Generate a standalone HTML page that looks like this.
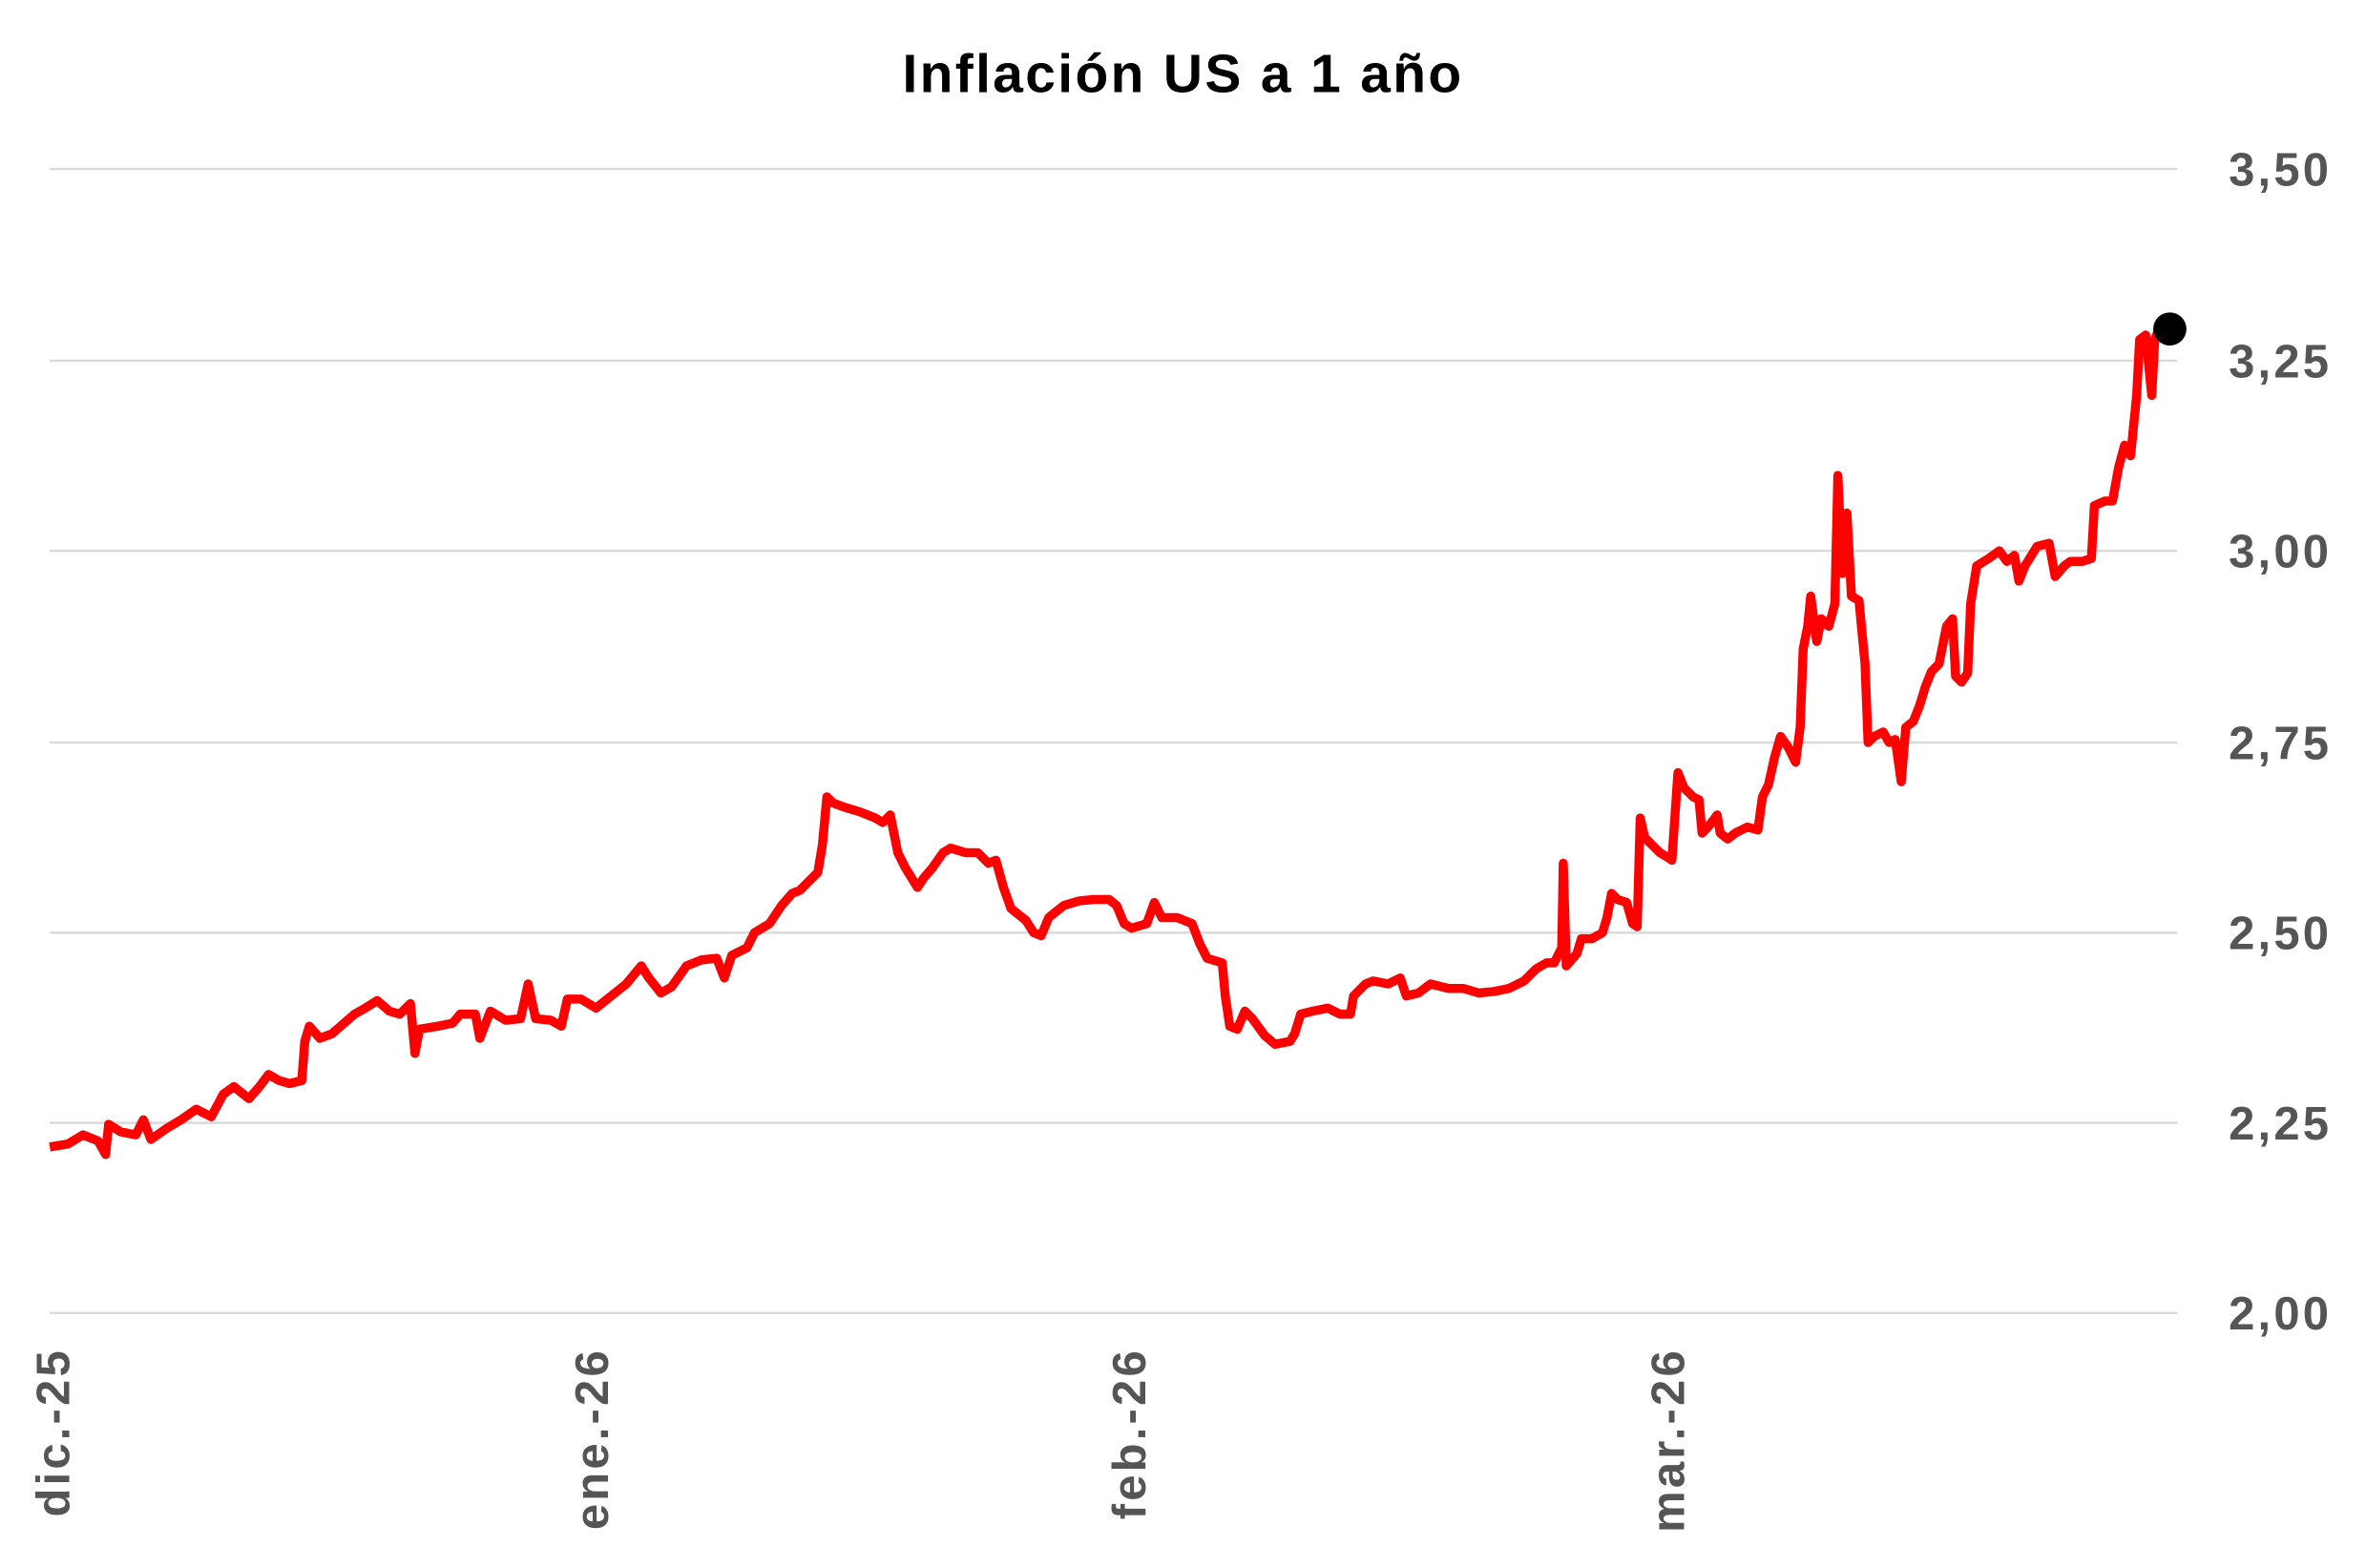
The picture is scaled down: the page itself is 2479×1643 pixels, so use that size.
<!DOCTYPE html>
<html><head><meta charset="utf-8"><style>html,body{margin:0;padding:0;background:#fff}svg{display:block}</style></head>
<body>
<svg width="2479" height="1643" viewBox="0 0 1568 1039" preserveAspectRatio="none" xmlns="http://www.w3.org/2000/svg">
<text x="784" y="61" text-anchor="middle" font-family="Liberation Sans, sans-serif" font-weight="bold" font-size="36" letter-spacing="1.5" fill="#000">Inflación US a 1 año</text>
<g stroke="#d9d9d9" stroke-width="1.5">
<line x1="33" y1="112" x2="1443" y2="112"/><line x1="33" y1="239" x2="1443" y2="239"/>
<line x1="33" y1="365" x2="1443" y2="365"/><line x1="33" y1="492" x2="1443" y2="492"/>
<line x1="33" y1="618" x2="1443" y2="618"/><line x1="33" y1="744" x2="1443" y2="744"/>
<line x1="33" y1="870" x2="1443" y2="870"/>
</g>
<g font-family="Liberation Sans, sans-serif" font-weight="bold" font-size="31" letter-spacing="2" fill="#555">
<text x="1477" y="123">3,50</text><text x="1477" y="250">3,25</text><text x="1477" y="376">3,00</text>
<text x="1477" y="503">2,75</text><text x="1477" y="629">2,50</text><text x="1477" y="755">2,25</text>
<text x="1477" y="881">2,00</text>
<text transform="translate(46,893) rotate(-90)" text-anchor="end">dic.-25</text>
<text transform="translate(403,893) rotate(-90)" text-anchor="end">ene.-26</text>
<text transform="translate(759,893) rotate(-90)" text-anchor="end">feb.-26</text>
<text transform="translate(1116,893) rotate(-90)" text-anchor="end">mar.-26</text>
</g>
<polyline fill="none" stroke="#ff0000" stroke-width="6" stroke-linejoin="round" points="33,760 45,758 55,752 65,756 70,765 72,745 80,750 90,752 95,742 100,755 110,748 120,742 130,735 140,740 148,725 155,720 165,728 172,720 178,712 185,716 192,718 200,716 202,690 205,680 212,688 220,685 228,678 235,672 242,668 250,663 258,670 265,672 272,665 275,698 278,682 290,680 300,678 305,672 315,672 318,688 325,670 335,676 345,675 350,652 355,675 365,676 372,680 376,662 385,662 395,668 405,660 415,652 425,640 430,648 438,658 445,654 455,640 465,636 475,635 480,648 485,633 495,628 500,618 510,612 518,600 525,592 530,590 538,582 542,578 545,560 548,528 552,532 560,535 570,538 580,542 585,545 590,540 595,565 600,575 608,588 612,582 618,575 625,565 630,562 640,565 648,565 655,572 660,570 665,588 670,602 680,610 685,618 690,620 695,608 700,604 705,600 715,597 725,596 735,596 740,600 745,612 750,615 760,612 765,598 770,608 780,608 790,612 795,625 800,635 810,638 812,660 815,680 820,682 825,670 830,675 838,686 845,692 855,690 858,685 862,672 870,670 880,668 888,672 895,672 897,660 905,652 910,650 920,652 928,648 932,660 940,658 948,652 960,655 970,655 980,658 990,657 1000,655 1010,650 1018,642 1025,638 1030,638 1035,628 1036,572 1038,640 1045,632 1048,622 1055,622 1062,618 1065,608 1068,592 1072,596 1078,598 1082,612 1085,614 1087,542 1090,555 1095,560 1100,565 1105,568 1108,570 1112,512 1116,522 1122,528 1126,530 1128,552 1132,548 1138,540 1140,552 1145,556 1150,552 1158,548 1165,550 1168,528 1172,520 1176,502 1180,488 1185,495 1190,505 1193,482 1195,430 1198,415 1200,395 1204,425 1207,410 1212,415 1216,400 1218,315 1221,380 1224,340 1227,395 1232,398 1236,440 1238,492 1242,488 1248,485 1252,492 1256,490 1260,518 1263,482 1268,478 1272,468 1276,455 1280,445 1285,440 1290,415 1294,410 1296,448 1300,452 1304,446 1306,400 1310,375 1318,370 1325,365 1330,372 1335,368 1338,385 1342,375 1350,362 1358,360 1362,382 1368,375 1372,372 1380,372 1386,370 1388,335 1395,332 1400,332 1404,310 1408,295 1412,302 1416,262 1418,225 1422,222 1426,262 1428,225 1432,215 1438,218"/>
<circle cx="1438" cy="218" r="11" fill="#000"/>
</svg>
</body></html>
